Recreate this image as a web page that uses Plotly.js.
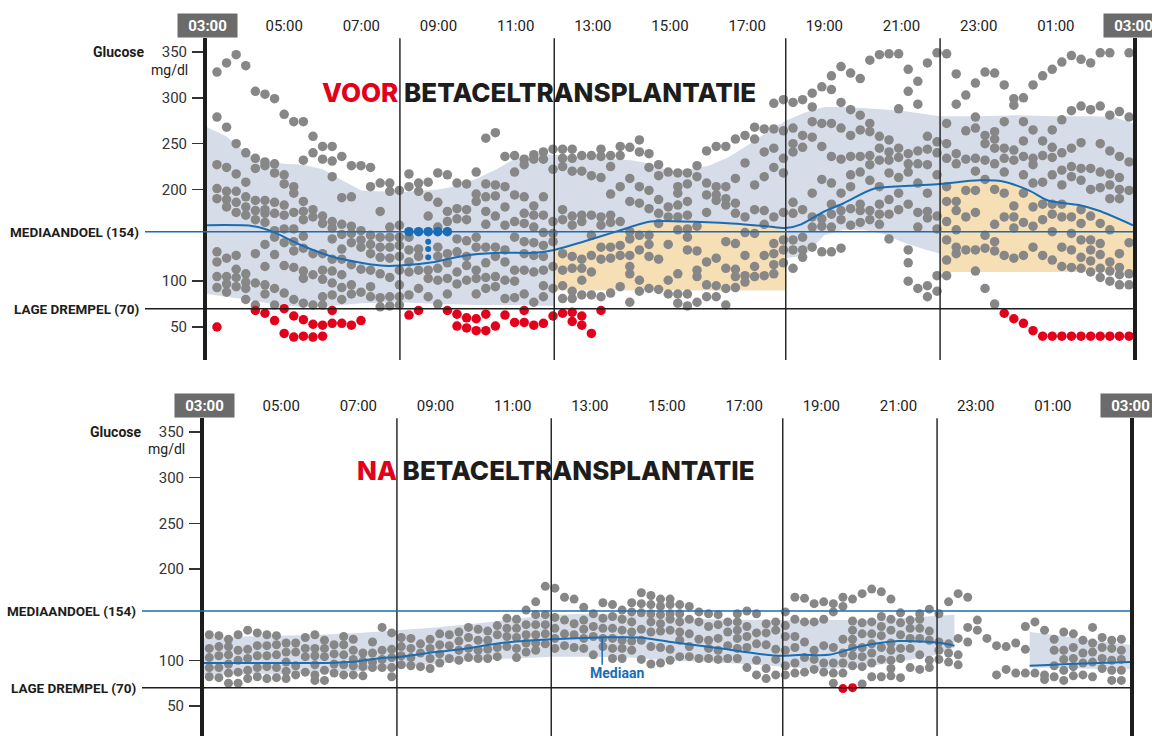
<!DOCTYPE html>
<html><head><meta charset="utf-8">
<script src="https://cdn.plot.ly/plotly-3.0.1.min.js"></script>
<style>html,body{margin:0;padding:0;background:#fff;overflow:hidden}#chart{width:1152px;height:736px}</style>
</head><body><div id="chart"></div>
<script>
// ---------- axis / labels ----------
const HOUR_TICKS = [2,4,6,8,10,12,14,16,18,20,22];          // hours after 03:00
const HOUR_LABELS = ['05:00','07:00','09:00','11:00','13:00','15:00','17:00','19:00','21:00','23:00','01:00'];
const EDGE_LABEL = '03:00';
const Y_TICKS = [50,100,200,250,300,350];
const DIVIDERS = [5,9,15,19];                                 // 08:00, 12:00, 18:00, 22:00
const TARGET = 154, LOW = 70;
const TOP_TITLE = ['VOOR','BETACELTRANSPLANTATIE'];
const BOT_TITLE = ['NA','BETACELTRANSPLANTATIE'];

// sampling grid (minutes after 03:00)
const TOP_FIRST_MIN = 15.5, BOT_FIRST_MIN = 8.2, STEP_MIN = 14.93;

// ---------- top panel: readings per 15-min column ----------
const topGrey = [
'328 279 227 201 190 132 121 105 93','338 268 224 198 189 181 125 105 97 88','347 250 217 198 186 175 128 113 104 94',
'335 240 208 192 181 172 108 99 92 80','307 234 223 188 177 167 130 98 74','304 230 226 188 178 174 164 140 116 96 86',
'299 228 218 186 174 155 148 129 92 74','282 216 206 183 172 157 142 117 87','274 203 196 175 157 143 133 115 80',
'274 232 187 176 167 149 136 111 103 76','258 240 178 170 130 107 74','247 233 171 163 130 112 102 83 74',
'247 231 214 165 158 146 124 111 98 85','236 191 162 151 135 124 107 93 80','226 192 160 152 142 118 96 86',
'226 155 145 137 113 88','224 203 150 140 130 112 94 83','207 176 148 137 126 108 82 72',
'207 198 159 148 137 125 104 83 73','199 161 148 139 127 112 96 83 74','217 203 148 134 121 110 85',
'207 198 135 127 112 92','208 192 171 112 103 83','218 186 159 137 127 114 101 75',
'216 176 165 130 120 103 86','207 179 168 146 132 110 97','206 178 167 144 127 117 101',
'219 195 187 148 137 112 103 86','256 206 192 176 162 137 120 104 92','262 205 193 171 137 127 105 94',
'236 203 181 161 134 121 101 81','237 219 194 165 148 112 100 82','233 227 192 174 163 143 130 112 86',
'238 233 182 172 159 142 128 110 77','241 233 192 172 153 139 127 112 95 83','244 222 165 152 143 116 92',
'244 234 225 178 167 130 112 95 81','244 234 220 171 161 127 114 89 81','237 220 172 165 124 114 101 85',
'237 215 172 150 128 110 85','244 236 213 170 161 137 124 83','237 225 195 172 164 137 125 87',
'247 237 203 165 139 128 94','246 212 187 154 146 128 116 108 77','254 241 203 185 150 134 101 89',
'239 224 199 179 150 140 127 92','227 215 189 174 163 124 91','219 181 170 140 101 86',
'218 203 196 183 170 156 108 86 76','218 206 187 172 157 148 134 86 73','226 214 160 133 112 105 77',
'242 207 194 175 121 96 83','247 203 194 188 125 95 83','247 203 190 183 143 114 92 74',
'255 212 185 174 141 113 105 93','259 229 170 153 128 106 99','268 255 205 178 152 116 105',
'266 241 214 177 162 128 106','294 266 245 224 170 141 130 118 108','298 264 234 218 175 145 134 120',
'295 267 250 241 186 174 145 134 114','298 259 246 178 148 134 126','305 290 274 257 196 170 159 137',
'312 272 247 211 168 160 132','324 309 272 236 207 184 173 159 132','334 295 267 233 196 177 167 136',
'327 287 259 236 216 203 179 161','321 281 265 236 219 184 177 164','341 272 263 237 227 210 177 167',
'347 258 245 232 203 184 173 162','348 254 241 232 218 189 173 146','348 288 245 235 213 196 178',
'331 307 239 228 219 184 134 120 100','318 293 242 228 207 175 159 92','338 258 244 227 196 176 169 95 83',
'349 252 240 216 171 157 106 89','348 272 250 234 203 187 165 145 123 106','326 293 239 228 187 177 156 137 130',
'303 264 233 199 170 134','316 279 267 234 220 199 175 134 111','328 259 250 232 211 150 136 92',
'327 263 255 245 228 200 162 143 133 75','314 274 245 234 219 196 170 128','299 292 243 232 182 170 158 125',
'300 274 253 236 216 196 164 128','314 265 234 227 207 181 160 137','324 253 237 208 184 167 128',
'331 265 246 235 216 184 173 154 123','339 276 240 221 205 184 170 137 116','346 286 245 225 214 170 152 134 115',
'342 291 251 223 210 178 163 145 126 114','338 287 223 200 171 145 134 122 110','349 291 250 219 202 163 141 129 114 104',
'349 281 242 217 205 190 156 121 111 100','285 236 213 200 190 130 115 107 96','349 279 230 199 142 108 96'
];
const topRed = {0:'50',4:'68',5:'65',6:'57',7:'70 43',8:'62 39',9:'58 40',10:'53 39',11:'52 40',12:'68 54',13:'54',14:'52',15:'57',
  20:'63',21:'68',24:'68',25:'64 51',26:'60 49',27:'59 46',28:'64 46',29:'51',30:'63',31:'55',32:'55 68',33:'52',34:'54',
  35:'62',36:'65',37:'56 66',38:'62 52',39:'43',40:'68',82:'65',83:'59',84:'54',85:'46',86:'40',87:'40',88:'40',89:'40',
  90:'40',91:'40',92:'40',93:'40',94:'40',95:'40'};
const topBlue = {20:'154',21:'154',22:'154',23:'154',24:'154'};
const topBlueSmall = {22:'143 135 126'};

// top panel summary curves (hours after 03:00)
const topMedH = [0,1.2,1.7,2.4,3.3,4.5,5.0,5.9,6.7,7.6,8.5,9.0,9.75,10.6,11.5,12.3,13.6,14.5,15.0,15.4,16.0,16.5,17.3,18.2,19.0,20.0,20.6,21.3,21.8,22.6,23.1,24];
const topMedV = [161,160,154,140,126,117,117,121,128,131,131,134,143,154,165,165,163,160,158,162,176,185,201,204,206,210,209,199,188,183,177,161];
const topBandUpH = [0,0.5,1,1.5,2,2.5,3,3.5,4,5,6,6.5,7,7.5,8,8.5,9,10,11,11.5,12,12.5,13,13.5,14,14.5,15,15.5,16,16.5,17,18,19,20,21,22,23,23.5,24];
const topBandUpV = [268,258,240,231,228,227,222,210,199,197,200,204,212,222,234,239,238,235,232,228,220,222,226,235,248,262,275,284,290,290,289,286,280,280,281,280,280,279,272];
const topBandLoH = [0,1,2,3,4,5,6,7,8,9,9,15,15,15.5,16,16.5,17,17.5,18,18.5,19,19,24];
const topBandLoV = [86,80,73,72,76,77,75,74,74,73,90,90,125,128,150,156,156,152,143,136,130,110,110];
const topOrange = [[9,15,90],[19,24,110]];  // [start h, end h, lower value]

// ---------- bottom panel ----------
const botGrey = [
'128 113 103 92 82','127 115 105 92 81','123 115 106 96 86 75','128 111 100 87 75','133 112 102 89 80','130 116 105 92 82',
'128 116 105 93 80','127 117 106 92 81','119 109 98 88 80','119 109 94 84','125 113 104 87','128 113 105 95 84 78',
'122 113 104 89 78','117 107 96 86','126 117 106 95 84','123 111 101 94 84','108 99 93 83','120 108 98 92',
'136 111 101 92','130 112 103 92 82','125 115 105 95','124 113 103 94','118 108 93','123 113 102 91',
'129 117 107 97','128 116 102','131 121 111 100','136 125 113 103','134 122 111 102','132 122 112 102',
'138 128 114 104','146 135 126 115','145 135 125 113 103','155 139 128 119 109','164 150 139 128 119 111','181 150 139 129 118',
'179 147 135 124 113','169 144 129 116','167 140 128 114','158 144 134 124 113','151 137 126 106','163 146 135 124 115',
'161 148 135 124 113 102','155 145 133 122 113 102','163 153 142 131 121 111','174 162 152 134 122 101','171 161 151 142 131 115 96','167 159 150 140 132 114 97',
'167 161 151 145 133 112 100','161 151 142 131 122 104','159 145 129 115 104','153 142 123 102','151 137 122 113 102','150 139 124 111 101',
'142 131 116 102','151 142 133 124 113 102','154 137 126 114 92','151 130 118 100 84','140 130 117 91 80','142 133 112 101 84',
'153 138 126 111 94 84','169 145 126 114 97 86','168 142 120 103 87','162 142 111 101 90','164 145 116 97 87','162 153 114 97 86 75',
'169 159 123 108 97 86','167 143 133 123 114 105 94','173 141 129 114 104 93 74','178 142 129 118 108 97 82','175 148 137 127 114 101 82','167 145 133 119 111 100 91 83',
'152 141 128 113 102 81','144 135 124 113 92','151 145 135 124 106 90','156 132 122 100 92','151 120 111 101','164 118 108 98',
'173 124 106 95','169 136 120','144 133','124','116 84','115 90',
'119 86','137 112 86','142 86','133 84 79','123 111 94 82','131 111 101 89 78',
'129 114 102 93 83','122 108 97 84','136 119 109 98 82','125 114 102 91','122 113 100 89 78','123 111 101 89 78'
];
const botRed = {66:'69',67:'70'};
const botMedSegs = [
  {h:[0,1,2,3,3.5,4,4.5,5.1,6,6.8,7.7,9,10.3,11.3,12.1,13.4,14.4,15,15.5,16.2,17,18,19.1,19.45],
   v:[97,97,97,97,97.5,99,102,104,109,113,119,123,125,125,120,113,107,105,106,106,115,121,119,116]},
  {h:[21.4,22.4,24], v:[94,96,98]}
];
const botBands = [
  {upH:[0,1,2,3,4,5,6,7,8,9,10,11,12,13,14,15,16,17,18,19,19.45],
   upV:[125,126,127,128,130,133,136,140,145,150,151,150,148,145,144,144,144,144,146,149,150],
   loH:[0,2,4,5,6,7,8,9,10,11,12,13,14,15,16,17,18,19,19.45],
   loV:[84,85,88,92,96,100,102,104,104,103,100,98,96,93,90,92,98,106,114]},
  {upH:[21.4,22,23,24], upV:[131,128,122,117], loH:[21.4,24], loV:[92,90]}
];

// ---------- styles ----------
const GREY = '#878787', RED = '#e3001b', BLUE = '#1a6cb5', BAND = '#d7dde8', ORANGE = '#f6dfb5', INK = '#1d1d1b';
const NARROW = "Roboto, 'Liberation Sans', sans-serif";
const GEO = "Inter, 'Open Sans', sans-serif";

function colPoints(cols, firstMin) {
  const x = [], y = [];
  Object.keys(cols).forEach(k => {
    const s = cols[k]; if (!s) return;
    s.split(' ').forEach(v => { x.push((firstMin + STEP_MIN * (+k)) / 60); y.push(+v); });
  });
  return {x, y};
}
function polygon(upH, upV, loH, loV) {
  return {x: upH.concat(loH.slice().reverse()), y: upV.concat(loV.slice().reverse())};
}
function fillTrace(p, color, xa, ya) {
  return {type:'scatter', mode:'lines', x:p.x, y:p.y, fill:'toself', fillcolor:color,
          line:{width:0, color:color}, xaxis:xa, yaxis:ya, hoverinfo:'skip'};
}
function dots(p, color, size, xa, ya) {
  return {type:'scatter', mode:'markers', x:p.x, y:p.y, xaxis:xa, yaxis:ya,
          marker:{color:color, size:size, line:{width:0}}, hoverinfo:'skip'};
}

const traces = [];
traces.push(fillTrace(polygon(topBandUpH, topBandUpV, topBandLoH, topBandLoV), BAND, 'x', 'y'));
topOrange.forEach(([a, b, lo]) => {
  const hs = [], vs = [];
  topMedH.forEach((h, i) => { if (h >= a && h <= b) { hs.push(h); vs.push(topMedV[i]); } });
  traces.push(fillTrace(polygon(hs, vs, [a, b], [lo, lo]), ORANGE, 'x', 'y'));
});
traces.push(dots(colPoints(topGrey, TOP_FIRST_MIN), GREY, 9.5, 'x', 'y'));
traces.push(dots(colPoints(topRed, TOP_FIRST_MIN), RED, 9.5, 'x', 'y'));
traces.push(dots(colPoints(topBlue, TOP_FIRST_MIN), BLUE, 9.5, 'x', 'y'));
traces.push(dots(colPoints(topBlueSmall, TOP_FIRST_MIN), BLUE, 6, 'x', 'y'));
traces.push({type:'scatter', mode:'lines', x:topMedH, y:topMedV, line:{color:BLUE, width:2, shape:'spline', smoothing:0.8},
             xaxis:'x', yaxis:'y', hoverinfo:'skip'});
botBands.forEach(b => traces.push(fillTrace(polygon(b.upH, b.upV, b.loH, b.loV), BAND, 'x2', 'y2')));
traces.push(dots(colPoints(botGrey, BOT_FIRST_MIN), GREY, 9, 'x2', 'y2'));
traces.push(dots(colPoints(botRed, BOT_FIRST_MIN), RED, 9, 'x2', 'y2'));
botMedSegs.forEach(s => traces.push({type:'scatter', mode:'lines', x:s.h, y:s.v,
  line:{color:BLUE, width:2, shape:'spline', smoothing:0.8}, xaxis:'x2', yaxis:'y2', hoverinfo:'skip'}));

const W = 1152, H = 736;
const px = v => v / W, py = v => 1 - v / H;

function xAxis(domain, anchor) {
  return {domain, anchor, range:[0,24], side:'top', showgrid:false, zeroline:false, showline:false,
          tickvals:HOUR_TICKS, ticktext:HOUR_LABELS, ticks:'', ticklabelstandoff:3,
          tickfont:{family:NARROW, size:15, color:'#222'}, fixedrange:true};
}
function yAxis(domain, range, anchor) {
  return {domain, range, anchor, showgrid:false, zeroline:false, showline:true, linewidth:4, linecolor:INK,
          mirror:true, tickvals:Y_TICKS, ticks:'outside', ticklen:11, tickwidth:1.5, tickcolor:'#333',
          tickfont:{family:NARROW, size:15, color:'#333'}, ticklabelstandoff:2, fixedrange:true};
}

const shapes = [];
[['x','y'],['x2','y2']].forEach(([xa, ya]) => {
  DIVIDERS.forEach(h => shapes.push({type:'line', xref:xa, yref:ya+' domain', x0:h, x1:h, y0:0, y1:1,
    line:{color:'#2b2b2b', width:1.5}, layer:'above'}));
});
shapes.push({type:'line', xref:'paper', yref:'y', x0:px(145), x1:px(1133), y0:TARGET, y1:TARGET, line:{color:BLUE, width:1.5}, layer:'above'});
shapes.push({type:'line', xref:'paper', yref:'y', x0:px(145), x1:px(1133), y0:LOW, y1:LOW, line:{color:INK, width:1.5}, layer:'above'});
shapes.push({type:'line', xref:'paper', yref:'y2', x0:px(142), x1:px(1130), y0:TARGET, y1:TARGET, line:{color:BLUE, width:1.5}, layer:'above'});
shapes.push({type:'line', xref:'paper', yref:'y2', x0:px(142), x1:px(1130), y0:LOW, y1:LOW, line:{color:INK, width:1.5}, layer:'above'});
shapes.push({type:'line', xref:'x2', yref:'y2', x0:10.32, x1:10.32, y0:125, y1:95, line:{color:BLUE, width:1.5}, layer:'above'});

const ann = [];
function title(parts, x, y) {
  ann.push({xref:'paper', yref:'paper', x:px(x), y:py(y), showarrow:false, xanchor:'center', yanchor:'middle',
    text:'<span style="color:'+RED+'">'+parts[0]+'</span> '+parts[1],
    font:{family:GEO, size:26, color:INK, weight:800}});
}
title(TOP_TITLE, 539, 92);
title(BOT_TITLE, 556, 470);
function edgeBox(xa, h, y) {
  ann.push({xref:xa, yref:'paper', x:h, y:py(y), showarrow:false, xanchor:'center', yanchor:'middle',
    text:'<b>'+EDGE_LABEL+'</b>', bgcolor:'#6b6b6b', width:53, height:17, borderpad:3,
    font:{family:NARROW, size:15, color:'#fff'}});
}
edgeBox('x', 0, 25.5); edgeBox('x', 24, 25.5); edgeBox('x2', 0, 405.5); edgeBox('x2', 24, 405.5);
function sideLabel(text, xRight, ya, yv, bold, size) {
  ann.push({xref:'paper', yref:ya, x:px(xRight), y:yv, showarrow:false, xanchor:'right', yanchor:'middle',
    text: bold ? '<b>'+text+'</b>' : text, font:{family:NARROW, size:size, color:INK}});
}
sideLabel('Glucose', 146, 'y', 350, true, 14);
sideLabel('mg/dl', 190, 'y', 330.4, false, 14);
sideLabel('MEDIAANDOEL (154)', 141, 'y', TARGET, true, 13.5);
sideLabel('LAGE DREMPEL (70)', 141, 'y', LOW, true, 13.5);
sideLabel('Glucose', 143, 'y2', 350, true, 14);
sideLabel('mg/dl', 187, 'y2', 331.4, false, 14);
sideLabel('MEDIAANDOEL (154)', 138, 'y2', TARGET, true, 13.5);
sideLabel('LAGE DREMPEL (70)', 138, 'y2', LOW, true, 13.5);
ann.push({xref:'x2', yref:'y2', x:10.7, y:86, showarrow:false, xanchor:'center', yanchor:'middle',
  text:'<b>Mediaan</b>', font:{family:NARROW, size:14, color:BLUE}});

const layout = {
  width:W, height:H, margin:{l:0, r:0, t:0, b:0}, paper_bgcolor:'#fff', plot_bgcolor:'rgba(0,0,0,0)',
  showlegend:false, font:{family:NARROW},
  xaxis: xAxis([px(207), px(1133)], 'y'),
  yaxis: yAxis([py(360), py(38.2)], [14, 365], 'x'),
  xaxis2: xAxis([px(204), px(1130)], 'y2'),
  yaxis2: yAxis([0, py(418.3)], [17.1, 365], 'x2'),
  shapes, annotations: ann
};
Plotly.newPlot('chart', traces, layout, {staticPlot:true, displayModeBar:false});
</script></body></html>
